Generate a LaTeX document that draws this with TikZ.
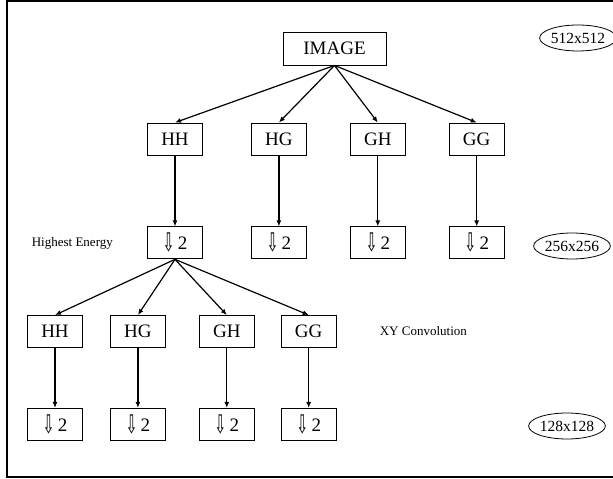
\documentclass[tikz,border=0pt]{standalone}
\usepackage{fontspec}
\setmainfont{Liberation Serif}
\newfontfamily\arrowfont{DejaVu Sans}
\usepackage{tikz}
\usetikzlibrary{arrows.meta, positioning, shapes.geometric}
\newcommand{\halve}{\raisebox{-2pt}{\arrowfont\scalebox{0.75}[1.35]{⇩}}\,2}

\begin{document}
\begin{tikzpicture}[
  x=1pt, y=1pt,
  block/.style={draw, line width=0.9pt, rectangle, minimum width=55pt, minimum height=32pt, inner sep=0pt, font=\fontsize{19}{19}\selectfont},
  size/.style={draw, line width=0.8pt, ellipse, minimum width=61pt, minimum height=26pt, inner sep=0pt, font=\fontsize{15.5}{15.5}\selectfont},
  note/.style={inner sep=0pt, font=\fontsize{13}{13}\selectfont},
  arr/.style={-{Latex[length=6pt, width=5pt]}, line width=1.2pt}
]
\useasboundingbox (0,0) rectangle (613,479);
\draw[line width=1.2pt] (614,478) -- (7,478) -- (7,2) -- (614,2);

\node[block, minimum width=103pt, minimum height=33pt] (image) at (334.5,430.5) {IMAGE};

\node[block] (hh1) at (175,340) {HH};
\node[block, right=48pt of hh1] (hg1) {HG};
\node[block, right=43pt of hg1] (gh1) {GH};
\node[block, right=43pt of gh1] (gg1) {GG};

\node[block, below=71pt of hh1] (hh1d) {\halve};
\node[block, below=71pt of hg1] (hg1d) {\halve};
\node[block, below=71pt of gh1] (gh1d) {\halve};
\node[block, below=71pt of gg1] (gg1d) {\halve};

\node[block] (hh2) at (55,147.5) {HH};
\node[block, right=27pt of hh2] (hg2) {HG};
\node[block, right=33pt of hg2] (gh2) {GH};
\node[block, right=26pt of gh2] (gg2) {GG};

\node[block, below=60pt of hh2] (hh2d) {\halve};
\node[block, below=60pt of hg2] (hg2d) {\halve};
\node[block, below=60pt of gh2] (gh2d) {\halve};
\node[block, below=60pt of gg2] (gg2d) {\halve};

\node[note, left=34pt of hh1d] (energy) {Highest Energy};
\node[note, right=43pt of gg2] (conv) {XY Convolution};

\node[size] (s512) at (578,441) {512x512};
\node[size] (s256) at (572,233) {256x256};
\node[size] (s128) at (567,53) {128x128};

\draw[arr] (image.south) -- (hh1.north);
\draw[arr] (image.south) -- (hg1.north);
\draw[arr] (image.south) -- (gh1.north);
\draw[arr] (image.south) -- (gg1.north);

\draw[arr] (hh1) -- (hh1d);
\draw[arr] (hg1) -- (hg1d);
\draw[arr] (gh1) -- (gh1d);
\draw[arr] (gg1) -- (gg1d);

\draw[arr] (hh1d.south) -- (hh2.north);
\draw[arr] (hh1d.south) -- (hg2.north);
\draw[arr] (hh1d.south) -- (gh2.north);
\draw[arr] (hh1d.south) -- (gg2.north);

\draw[arr] (hh2) -- (hh2d);
\draw[arr] (hg2) -- (hg2d);
\draw[arr] (gh2) -- (gh2d);
\draw[arr] (gg2) -- (gg2d);
\end{tikzpicture}
\end{document}
